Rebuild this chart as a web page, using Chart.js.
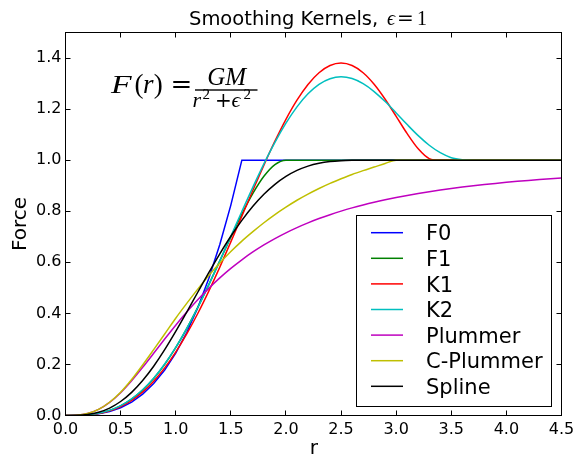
<!DOCTYPE html>
<html>
<head>
<meta charset="utf-8">
<title>Smoothing Kernels</title>
<script src="https://cdn.jsdelivr.net/npm/chart.js@4.4.0/dist/chart.umd.min.js"></script>
<style>
    html, body { margin: 0; padding: 0; background: #fff; }
    canvas { display: block; }
</style>
</head>
<body>
<canvas id="kernelChart" width="577" height="455"></canvas>
<script>
// Radius r (satuan epsilon), sampel tiap 0.1
const rValues = [
    0.0, 0.1, 0.2, 0.3, 0.4, 0.5, 0.6, 0.7, 0.8, 0.9,
    1.0, 1.1, 1.2, 1.3, 1.4, 1.5, 1.6, 1.7, 1.8, 1.9,
    2.0, 2.1, 2.2, 2.3, 2.4, 2.5, 2.6, 2.7, 2.8, 2.9,
    3.0, 3.1, 3.2, 3.3, 3.4, 3.5, 3.6, 3.7, 3.8, 3.9,
    4.0, 4.1, 4.2, 4.3, 4.4, 4.5,
];

// Nilai gaya per kernel
const f0Values = [
    0, 0.0002, 0.0020, 0.0066, 0.0156, 0.0305, 0.0527, 0.0837, 0.1250, 0.1780,
    0.2441, 0.3250, 0.4219, 0.5364, 0.6699, 0.8240, 1.0, 1.0, 1.0, 1.0,
    1.0, 1.0, 1.0, 1.0, 1.0, 1.0, 1.0, 1.0, 1.0, 1.0,
    1.0, 1.0, 1.0, 1.0, 1.0, 1.0, 1.0, 1.0, 1.0, 1.0,
    1.0, 1.0, 1.0, 1.0, 1.0, 1.0,
];
const f1Values = [
    0, 0.0003, 0.0025, 0.0083, 0.0195, 0.0376, 0.0639, 0.0993, 0.1446, 0.2001,
    0.2656, 0.3405, 0.4234, 0.5125, 0.6054, 0.6987, 0.7885, 0.8698, 0.9368, 0.9828,
    1.0, 1.0, 1.0, 1.0, 1.0, 1.0, 1.0, 1.0, 1.0, 1.0,
    1.0, 1.0, 1.0, 1.0, 1.0, 1.0, 1.0, 1.0, 1.0, 1.0,
    1.0, 1.0, 1.0, 1.0, 1.0, 1.0,
];
const k1Values = [
    0, 0.0003, 0.0023, 0.0077, 0.0181, 0.0349, 0.0593, 0.0923, 0.1346, 0.1866,
    0.2484, 0.3196, 0.3995, 0.4872, 0.5812, 0.6798, 0.7809, 0.8820, 0.9808, 1.0743,
    1.1599, 1.2348, 1.2964, 1.3423, 1.3707, 1.3803, 1.3706, 1.3424, 1.2973, 1.2386,
    1.1716, 1.1037, 1.0444, 1.0062, 1.0, 1.0, 1.0, 1.0, 1.0, 1.0,
    1.0, 1.0, 1.0, 1.0, 1.0, 1.0,
];
const k2Values = [
    0, 0.0003, 0.0026, 0.0085, 0.0200, 0.0384, 0.0650, 0.1008, 0.1463, 0.2016,
    0.2667, 0.3408, 0.4230, 0.5118, 0.6055, 0.7020, 0.7992, 0.8944, 0.9855, 1.0697,
    1.1448, 1.2088, 1.2599, 1.2970, 1.3191, 1.3266, 1.3195, 1.2996, 1.2687, 1.2295,
    1.1851, 1.1394, 1.0960, 1.0584, 1.0292, 1.0097, 1.0019, 1.0, 1.0, 1.0,
    1.0, 1.0, 1.0, 1.0, 1.0, 1.0,
];
const plummerValues = [
    0, 0.0010, 0.0075, 0.0237, 0.0512, 0.0894, 0.1362, 0.1886, 0.2438, 0.2994,
    0.3536, 0.4051, 0.4534, 0.4980, 0.5388, 0.5760, 0.6098, 0.6404, 0.6680, 0.6930,
    0.7155, 0.7360, 0.7545, 0.7713, 0.7865, 0.8004, 0.8131, 0.8246, 0.8352, 0.8449,
    0.8538, 0.8620, 0.8696, 0.8765, 0.8830, 0.8890, 0.8945, 0.8996, 0.9044, 0.9089,
    0.9131, 0.9170, 0.9206, 0.9240, 0.9272, 0.9302,
];
const cPlummerValues = [
    0, 0.0010, 0.0075, 0.0240, 0.0520, 0.0910, 0.1410, 0.1980, 0.2580, 0.3190,
    0.3810, 0.4390, 0.4950, 0.5480, 0.5970, 0.6420, 0.6830, 0.7200, 0.7550, 0.7870,
    0.8160, 0.8430, 0.8670, 0.8890, 0.9090, 0.9270, 0.9440, 0.9590, 0.9730, 0.9870,
    1.0, 1.0, 1.0, 1.0, 1.0, 1.0, 1.0, 1.0, 1.0, 1.0,
    1.0, 1.0, 1.0, 1.0, 1.0, 1.0,
];
const splineValues = [
    0, 0.0005, 0.0038, 0.0126, 0.0291, 0.0548, 0.0907, 0.1370, 0.1931, 0.2578,
    0.3292, 0.4050, 0.4827, 0.5597, 0.6333, 0.7020, 0.7642, 0.8193, 0.8663, 0.9052,
    0.9363, 0.9599, 0.9768, 0.9880, 0.9948, 0.9982, 0.9996, 1.0, 1.0, 1.0,
    1.0, 1.0, 1.0, 1.0, 1.0, 1.0, 1.0, 1.0, 1.0, 1.0,
    1.0, 1.0, 1.0, 1.0, 1.0, 1.0,
];

const seriesNames = ["F0", "F1", "K1", "K2", "Plummer", "C-Plummer", "Spline"];

// Tick sumbu
const xTicks = [0, 0.5, 1.0, 1.5, 2.0, 2.5, 3.0, 3.5, 4.0, 4.5];
const xTickLabels = ["0.0", "0.5", "1.0", "1.5", "2.0", "2.5", "3.0", "3.5", "4.0", "4.5"];
const yTicks = [0, 0.2, 0.4, 0.6, 0.8, 1.0, 1.2, 1.4];
const yTickLabels = ["0.0", "0.2", "0.4", "0.6", "0.8", "1.0", "1.2", "1.4"];

// Warna ala matplotlib klasik
const seriesColors = ["#0000ff", "#008000", "#ff0000", "#00bfbf", "#bf00bf", "#bfbf00", "#000000"];
const seriesValues = [f0Values, f1Values, k1Values, k2Values, plummerValues, cPlummerValues, splineValues];

const SANS = '"DejaVu Sans", sans-serif';
const SERIF = '"Liberation Serif", "DejaVu Serif", serif';
const SYM = '"DejaVu Serif", serif';

function txt(c, s, x, y, font, align) {
    c.font = font;
    c.textAlign = align || "left";
    c.textBaseline = "alphabetic";
    c.fillText(s, x, y);
}

/**
 * Plugin: bingkai, tick ke dalam, legenda, judul dan rumus
 */
const kernelDecor = {
    id: "kernelDecor",
    beforeDraw(chart) {
        const c = chart.ctx;
        c.save();
        c.fillStyle = "#fff";
        c.fillRect(0, 0, chart.width, chart.height);
        c.restore();
    },
    afterDraw(chart) {
        const c = chart.ctx;
        const a = chart.chartArea;
        const xs = chart.scales.x;
        const ys = chart.scales.y;
        c.save();

        // bingkai dan tick
        c.strokeStyle = "#000";
        c.lineWidth = 1;
        c.strokeRect(a.left, a.top, a.right - a.left, a.bottom - a.top);
        c.beginPath();
        xTicks.forEach((v) => {
            const px = Math.round(xs.getPixelForValue(v) - 0.5) + 0.5;
            c.moveTo(px, a.bottom);
            c.lineTo(px, a.bottom - 5);
            c.moveTo(px, a.top);
            c.lineTo(px, a.top + 5);
        });
        yTicks.forEach((v) => {
            const py = Math.round(ys.getPixelForValue(v) - 0.5) + 0.5;
            c.moveTo(a.left, py);
            c.lineTo(a.left + 5, py);
            c.moveTo(a.right, py);
            c.lineTo(a.right - 5, py);
        });
        c.stroke();

        // legenda
        c.fillStyle = "#fff";
        c.fillRect(356.5, 215.5, 195, 191);
        c.strokeRect(356.5, 215.5, 195, 191);
        seriesNames.forEach((name, i) => {
            const yy = 232.7 + i * 25.6;
            c.strokeStyle = seriesColors[i];
            c.lineWidth = 1.5;
            c.beginPath();
            c.moveTo(371, yy);
            c.lineTo(403, yy);
            c.stroke();
            c.fillStyle = "#000";
            txt(c, name, 426, yy + 7.6, "21px " + SANS);
        });

        c.fillStyle = "#000";

        // judul
        txt(c, "Smoothing Kernels,", 189, 25, "19.5px " + SANS);
        txt(c, "\u03f5", 391, 25, "italic 20px " + SERIF, "center");
        txt(c, "=", 405.5, 25, "20px " + SYM, "center");
        txt(c, "1", 422, 25, "20px " + SERIF, "center");

        // label sumbu
        txt(c, "r", 313.8, 453.5, "20px " + SANS, "center");
        c.save();
        c.translate(25.5, (a.top + a.bottom) / 2);
        c.rotate(-Math.PI / 2);
        txt(c, "Force", 0, 0, "20px " + SANS, "center");
        c.restore();

        // rumus F(r)
        c.save();
        c.translate(111, 92.5);
        c.scale(1.3, 1);
        txt(c, "F", 0, 0, "italic 26px " + SERIF);
        c.restore();
        txt(c, "(", 139, 92.5, "27px " + SERIF, "center");
        txt(c, "r", 148.3, 92.5, "italic 27px " + SERIF, "center");
        txt(c, ")", 158.3, 92.5, "27px " + SERIF, "center");
        txt(c, "=", 181.3, 93, "26px " + SYM, "center");
        c.fillRect(195, 89.3, 62.5, 1.4);
        txt(c, "GM", 226.7, 85, "italic 25px " + SERIF, "center");
        txt(c, "r", 192.5, 106.5, "italic 22px " + SERIF);
        txt(c, "2", 202.5, 98.5, "15px " + SERIF);
        txt(c, "+", 223.3, 106.5, "20px " + SYM, "center");
        txt(c, "\u03f5", 231.5, 106.5, "italic 22px " + SERIF);
        txt(c, "2", 243.5, 98.5, "15px " + SERIF);

        c.restore();
    },
};

const chartElement = document.getElementById("kernelChart");

new Chart(chartElement, {
    type: "line",
    data: {
        datasets: seriesNames.map((name, i) => ({
            label: name,
            data: rValues.map((r, j) => ({ x: r, y: seriesValues[i][j] })),
            borderColor: seriesColors[i],
            backgroundColor: seriesColors[i],
            borderWidth: 1.5,
            pointRadius: 0,
            fill: false,
            tension: 0,
            cubicInterpolationMode: i === 0 ? "default" : "monotone",
            order: seriesNames.length - i, // seri terakhir digambar paling atas
        })),
    },
    options: {
        responsive: false,
        animation: false,
        devicePixelRatio: 1,
        layout: {
            padding: { top: 32.5, right: 15.5, left: 0, bottom: 0 },
        },
        plugins: {
            legend: { display: false },
            tooltip: { enabled: false },
            title: { display: false },
        },
        scales: {
            x: {
                type: "linear",
                min: 0,
                max: 4.5,
                grid: { display: false, drawTicks: false },
                border: { display: false },
                afterBuildTicks: (scale) => {
                    scale.ticks = xTicks.map((v) => ({ value: v }));
                },
                afterFit: (scale) => {
                    scale.height = 39.5;
                    scale.paddingLeft = 0;
                    scale.paddingRight = 0;
                },
                ticks: {
                    autoSkip: false,
                    maxRotation: 0,
                    padding: 5,
                    color: "#000",
                    font: { family: "DejaVu Sans", size: 16 },
                    callback: (value, index) => xTickLabels[index],
                },
            },
            y: {
                min: 0,
                max: 1.5,
                grid: { display: false, drawTicks: false },
                border: { display: false },
                afterBuildTicks: (scale) => {
                    scale.ticks = yTicks.map((v) => ({ value: v }));
                },
                afterFit: (scale) => {
                    scale.width = 65.5;
                    scale.paddingTop = 0;
                    scale.paddingBottom = 0;
                },
                ticks: {
                    autoSkip: false,
                    padding: 4,
                    color: "#000",
                    font: { family: "DejaVu Sans", size: 16 },
                    callback: (value, index) => yTickLabels[index],
                },
            },
        },
    },
    plugins: [kernelDecor],
});
</script>
</body>
</html>
